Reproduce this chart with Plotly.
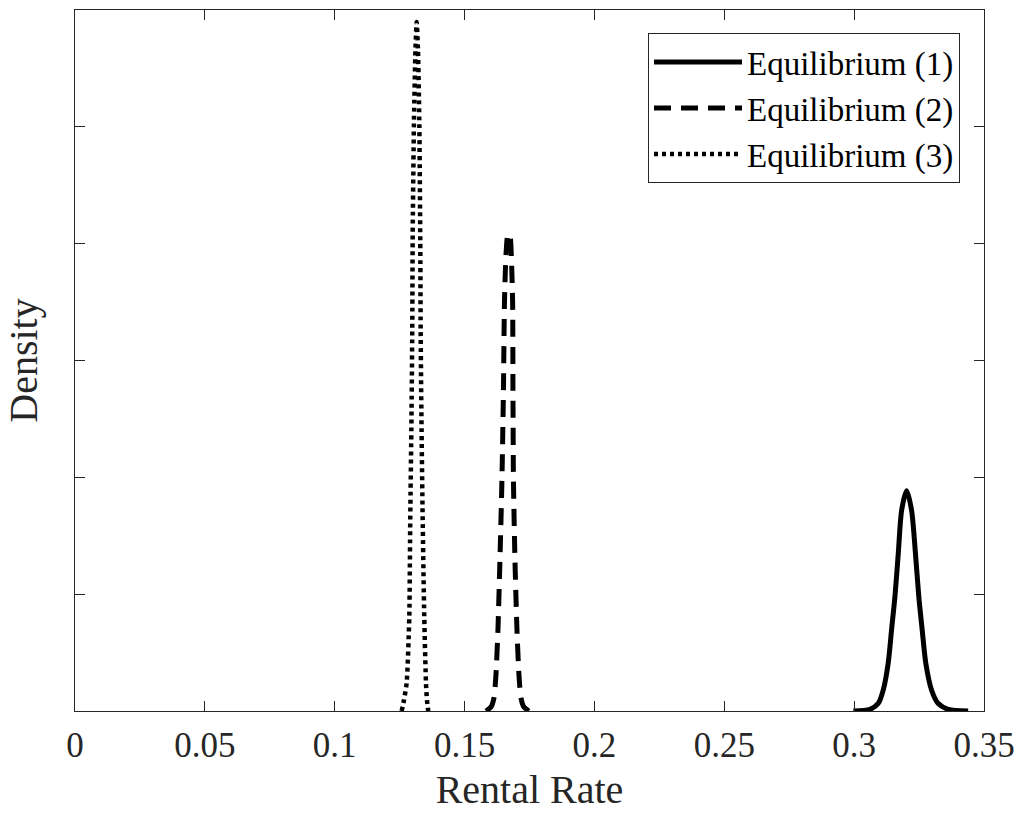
import plotly.graph_objects as go

# Equilibrium (1) - solid
eq1_x = [0.2997, 0.3061, 0.3093, 0.3112, 0.3131, 0.3144, 0.3157, 0.3170, 0.3183, 0.3202,
         0.3221, 0.3236, 0.3249, 0.3262, 0.3276, 0.3298, 0.3323, 0.3362, 0.3439]
eq1_y = [0.0, 0.7, 3.3, 9.0, 20.4, 34.7, 48.9, 67.5, 86.0, 94.3,
         86.0, 67.5, 48.9, 34.7, 20.4, 9.0, 3.3, 0.7, 0.0]

# Equilibrium (2) - dashed
eq2_x = [0.15824, 0.16016, 0.16131, 0.16208, 0.16285, 0.16362, 0.16439, 0.16497, 0.16536,
         0.16594, 0.16671, 0.16748, 0.16805, 0.16851, 0.16863, 0.16882, 0.16940, 0.17017,
         0.17094, 0.17171, 0.17286, 0.17479]
eq2_y = [0.0, 1.7, 5.6, 15.4, 34.7, 64.6, 98.9, 137.4, 174.6, 195.1, 204.1, 203.3, 193.0,
         174.6, 137.4, 98.9, 64.6, 34.7, 15.4, 5.6, 1.7, 0.0]

# Equilibrium (3) - dotted
eq3_x = [0.12578, 0.12667, 0.12770, 0.12871, 0.12909, 0.12955, 0.12986, 0.13001, 0.13052,
         0.13109, 0.13155, 0.13206, 0.13256, 0.13294, 0.13309, 0.13340, 0.13386, 0.13448,
         0.13514, 0.13552, 0.13602]
eq3_y = [0.0, 4.7, 12.0, 40.2, 83.0, 124.5, 163.1, 201.6, 252.9, 282.9, 294.9,
         282.9, 252.9, 201.6, 163.1, 124.5, 83.0, 40.2, 12.0, 4.7, 0.0]

series_names = ["Equilibrium (1)", "Equilibrium (2)", "Equilibrium (3)"]
x_ticks = [0, 0.05, 0.1, 0.15, 0.2, 0.25, 0.3, 0.35]
x_tick_labels = ["0", "0.05", "0.1", "0.15", "0.2", "0.25", "0.3", "0.35"]
y_ticks = [0, 50, 100, 150, 200, 250, 300]

fig = go.Figure()
fig.add_trace(go.Scatter(x=eq1_x, y=eq1_y, mode="lines", name=series_names[0],
                         line=dict(color="black", width=5, shape="spline", smoothing=0.8)))
fig.add_trace(go.Scatter(x=eq2_x, y=eq2_y, mode="lines", name=series_names[1],
                         line=dict(color="black", width=5, dash="17px,10px", shape="spline", smoothing=0.6)))
fig.add_trace(go.Scatter(x=eq3_x, y=eq3_y, mode="lines", name=series_names[2],
                         line=dict(color="black", width=4.5, dash="4px,4px", shape="spline", smoothing=0.6)))

axis_common = dict(showgrid=False, zeroline=False, showline=True, linecolor="#262626",
                   linewidth=1, mirror="ticks", ticks="inside", ticklen=10,
                   tickcolor="#262626", tickwidth=1, automargin=False)

fig.update_layout(
    width=1019, height=816,
    margin=dict(l=75, r=35, t=10, b=105),
    paper_bgcolor="white", plot_bgcolor="white",
    font=dict(family="Liberation Serif", color="#262626", size=35),
    showlegend=True,
    legend=dict(x=0.9736, y=0.967, xanchor="right", yanchor="top",
                bordercolor="#262626", borderwidth=1, bgcolor="white",
                font=dict(size=33, family="Liberation Serif", color="black"),
                itemwidth=88, tracegroupgap=0),
    xaxis=dict(range=[0, 0.35], tickvals=x_ticks, ticktext=x_tick_labels,
               title=dict(text="Rental Rate", font=dict(size=40), standoff=10),
               tickfont=dict(size=35), ticklabelstandoff=3, **axis_common),
    yaxis=dict(range=[0, 300], tickvals=y_ticks, showticklabels=False,
               title=dict(text="Density", font=dict(size=40), standoff=24),
               **axis_common),
)

post = (
    "document.documentElement.style.overflow='hidden';"
    "document.body.style.margin='0px';document.body.style.overflow='hidden';"
)
fig.write_html("out.html", post_script=post,
               config={"displayModeBar": False})
